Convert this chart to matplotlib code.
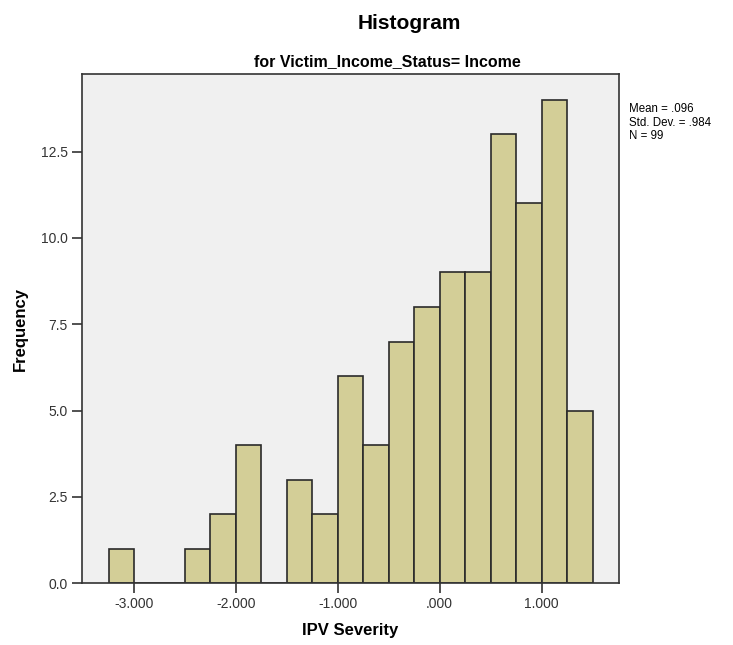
import matplotlib
matplotlib.use("Agg")
import matplotlib.pyplot as plt
import matplotlib.ticker as mtick

plt.rcParams["font.family"] = ["Liberation Sans", "DejaVu Sans"]

# Histogram data (bin width 0.25)
bin_left = [-3.25, -3.0, -2.75, -2.5, -2.25, -2.0, -1.75, -1.5, -1.25, -1.0,
            -0.75, -0.5, -0.25, 0.0, 0.25, 0.5, 0.75, 1.0, 1.25]
counts = [1, 0, 0, 1, 2, 4, 0, 3, 2, 6, 4, 7, 8, 9, 9, 13, 11, 14, 5]
bin_width = 0.25
x_ticks = [-3.0, -2.0, -1.0, 0.0, 1.0]
y_ticks = [0.0, 2.5, 5.0, 7.5, 10.0, 12.5]
stats_text = "Mean = .096\nStd. Dev. = .984\nN = 99"

fig = plt.figure(figsize=(7.33, 6.45), dpi=100)
ax = fig.add_axes([0.1115, 0.0961, 0.7334, 0.789])
ax.set_facecolor("#f0f0f0")

ax.bar(bin_left, counts, width=bin_width, align="edge",
       color="#d3ce97", edgecolor="#2a2a2a", linewidth=1.2)

ax.set_xlim(-3.513, 1.762)
ax.set_ylim(0, 14.75)
ax.set_xticks(x_ticks)
ax.set_yticks(y_ticks)


def fmt_x(v, pos):
    s = f"{v:.3f}"
    if s in ("0.000", "-0.000"):
        return ".000"
    return s


ax.xaxis.set_major_formatter(mtick.FuncFormatter(fmt_x))
ax.yaxis.set_major_formatter(mtick.FormatStrFormatter("%.1f"))
ax.tick_params(axis="both", direction="out", length=7, width=1.2,
               color="#333333", labelsize=10, labelcolor="#333333", pad=3)

for side in ["top", "right", "left", "bottom"]:
    ax.spines[side].set_color("#333333")
    ax.spines[side].set_linewidth(1.2)

ax.set_xlabel("IPV Severity", fontsize=12, fontweight="bold", labelpad=9)
ax.set_ylabel("Frequency", fontsize=12, fontweight="bold", labelpad=9)

fig.text(0.558, 0.978, "Histogram", ha="center", va="top",
         fontsize=15, fontweight="bold")
fig.text(0.528, 0.905, "for Victim_Income_Status= Income", ha="center",
         va="center", fontsize=11.5, fontweight="bold")
fig.text(0.858, 0.84, stats_text, ha="left", va="top", fontsize=8.3,
         linespacing=1.15)

fig.savefig("out.png", dpi=100)
